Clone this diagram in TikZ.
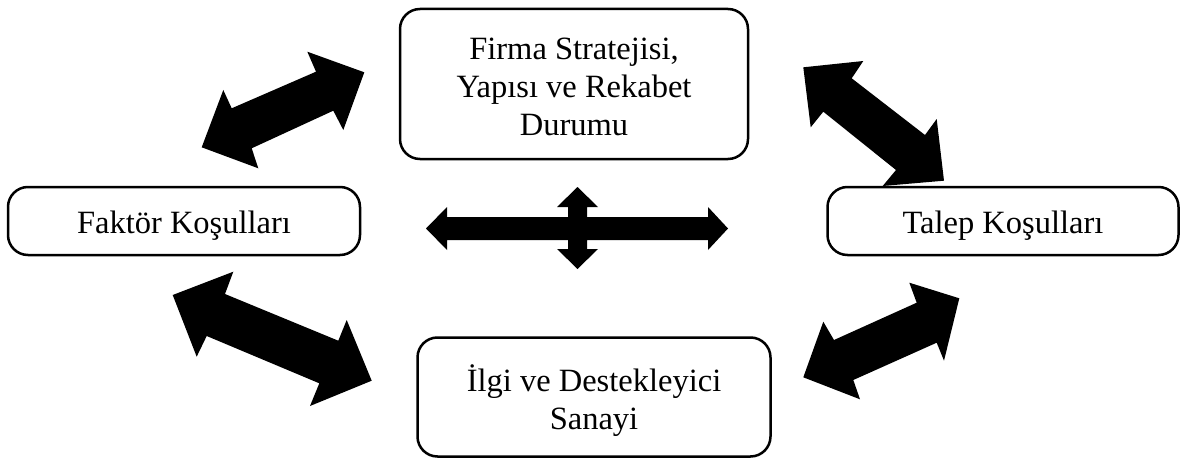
\documentclass[tikz,border=0pt]{standalone}
\usepackage{fontspec}
\setmainfont{Liberation Serif}
\begin{document}
\begin{tikzpicture}[x=1pt,y=-1pt,
  box/.style={draw=black, line width=2.5pt, rounded corners=20pt, fill=white,
    align=center, inner sep=0pt, font=\fontsize{32.5}{38}\selectfont},
  blockarrow/.style={fill=black, draw=none}]
\useasboundingbox (0,0) rectangle (1181,460);

% boxes
\node[box, minimum width=348pt, minimum height=150pt] (firma) at (574,84)
  {\rule{0pt}{27pt}Firma Stratejisi,\\Yapısı ve Rekabet\\Durumu};
\node[box, minimum width=352pt, minimum height=68pt] (faktor) at (184,221)
  {\rule{0pt}{32pt}Faktör Koşulları};
\node[box, minimum width=351pt, minimum height=68pt] (talep) at (1003,221)
  {\rule{0pt}{32pt}Talep Koşulları};
\node[box, minimum width=353pt, minimum height=119pt] (ilgi) at (594,397)
  {\rule{0pt}{35pt}İlgi ve Destekleyici\\Sanayi};

% top-left arrow
\fill[blockarrow] (201.7,147.3) -- (223.3,90) -- (231.7,108.3) -- (316,71.7)
  -- (307.3,51.7) -- (364.3,72.3) -- (343.3,130) -- (333.3,110.7)
  -- (251.7,148.3) -- (258.3,168.3) -- cycle;
% top-right arrow
\fill[blockarrow] (803.3,67.3) -- (863.3,61) -- (851.7,78.3) -- (925,135)
  -- (936.7,119) -- (944,180.7) -- (882.7,186) -- (896,170)
  -- (823.3,111.7) -- (810.7,127.3) -- cycle;
% bottom-left arrow
\fill[blockarrow] (172.7,295) -- (233.3,271.7) -- (225,294) -- (338.3,340.7)
  -- (346.7,320) -- (371.7,380.7) -- (310,406) -- (319.3,383.3)
  -- (206.7,336) -- (196.7,356.7) -- cycle;
% bottom-right arrow
\fill[blockarrow] (803.3,377.3) -- (823.3,321.7) -- (834,340) -- (916.7,302.7)
  -- (909.3,282.7) -- (959.3,298.3) -- (944,360.7) -- (936.7,342.7)
  -- (853.3,380) -- (860,399.3) -- cycle;
% central cross arrow
\fill[blockarrow] (426,228.5) -- (447,207) -- (447,217) -- (568,217)
  -- (568,207) -- (557,207) -- (577.5,187) -- (598,207) -- (587,207)
  -- (587,217) -- (708,217) -- (708,207) -- (728,228.5) -- (708,250)
  -- (708,240) -- (587,240) -- (587,249) -- (598,249) -- (577.5,269)
  -- (557,249) -- (568,249) -- (568,240) -- (447,240) -- (447,250) -- cycle;
\end{tikzpicture}
\end{document}
